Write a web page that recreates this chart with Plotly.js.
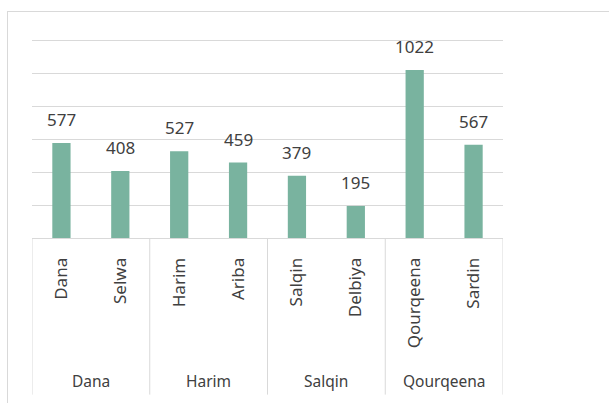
<!DOCTYPE html>
<html>
<head>
<meta charset="utf-8">
<script src="https://cdn.plot.ly/plotly-3.0.1.min.js"></script>
<style>
  html, body { margin: 0; padding: 0; background: #ffffff; overflow: hidden; }
  #frame { position: absolute; left: 7px; top: 11px; width: 700px; height: 500px; border: 1px solid #d9d9d9; box-sizing: border-box; }
  #chart { position: absolute; left: 0; top: 0; width: 609px; height: 403px; }
</style>
</head>
<body>
<div id="frame"></div>
<div id="chart"></div>
<script>
const groups = ["Dana", "Dana", "Harim", "Harim", "Salqin", "Salqin", "Qourqeena", "Qourqeena"];
const varieties = ["Dana", "Selwa", "Harim", "Ariba", "Salqin", "Delbiya", "Qourqeena", "Sardin"];
const values = [577, 408, 527, 459, 379, 195, 1022, 567];

const barColor = "#79b39f";
const gridColor = "#d9d9d9";
const textColor = "#404040";
const fontFam = "Noto Sans, sans-serif";

const idx = values.map((v, i) => i);

const trace = {
  type: "bar",
  x: idx,
  y: values,
  marker: { color: barColor },
  hoverinfo: "skip"
};

// value labels
const annotations = values.map((v, i) => ({
  x: i, y: v, xref: "x", yref: "y",
  text: String(v), showarrow: false,
  yanchor: "bottom", yshift: 10,
  font: { family: fontFam, size: 17, color: textColor }
}));

// group spans derived from the groups array
const spans = [];
groups.forEach((g, i) => {
  if (i === 0 || groups[i - 1] !== g) spans.push({ name: g, start: i, end: i });
  else spans[spans.length - 1].end = i;
});

const dividerBottom = -0.787;
const shapes = [];
spans.forEach((s, k) => {
  if (k === 0) shapes.push({ type: "line", xref: "x", yref: "paper", x0: s.start - 0.5, x1: s.start - 0.5, y0: 0, y1: dividerBottom, line: { color: gridColor, width: 1 } });
  shapes.push({ type: "line", xref: "x", yref: "paper", x0: s.end + 0.5, x1: s.end + 0.5, y0: 0, y1: dividerBottom, line: { color: gridColor, width: 1 } });
  annotations.push({
    x: (s.start + s.end) / 2, y: -0.72, xref: "x", yref: "paper",
    text: s.name, showarrow: false, yanchor: "middle", xanchor: "center",
    font: { family: fontFam, size: 15.5, color: textColor }
  });
});

const layout = {
  width: 609, height: 403,
  margin: { l: 32, r: 106, t: 39, b: 165 },
  paper_bgcolor: "rgba(0,0,0,0)",
  plot_bgcolor: "rgba(0,0,0,0)",
  showlegend: false,
  bargap: 0.69,
  font: { family: fontFam, color: textColor },
  xaxis: {
    type: "linear",
    range: [-0.5, values.length - 0.5],
    tickmode: "array", tickvals: idx, ticktext: varieties,
    tickangle: -90,
    tickfont: { size: 17, color: textColor },
    showline: true, linecolor: gridColor, linewidth: 1,
    ticks: "outside", ticklen: 12, tickcolor: "rgba(0,0,0,0)",
    showgrid: false, zeroline: false, fixedrange: true
  },
  yaxis: {
    range: [0, 1210], tick0: 0, dtick: 200,
    showticklabels: false, ticks: "",
    showgrid: true, gridcolor: gridColor, gridwidth: 1,
    zeroline: false, showline: false, fixedrange: true
  },
  shapes: shapes,
  annotations: annotations
};

Plotly.newPlot("chart", [trace], layout, { staticPlot: true, displayModeBar: false });
</script>
</body>
</html>
